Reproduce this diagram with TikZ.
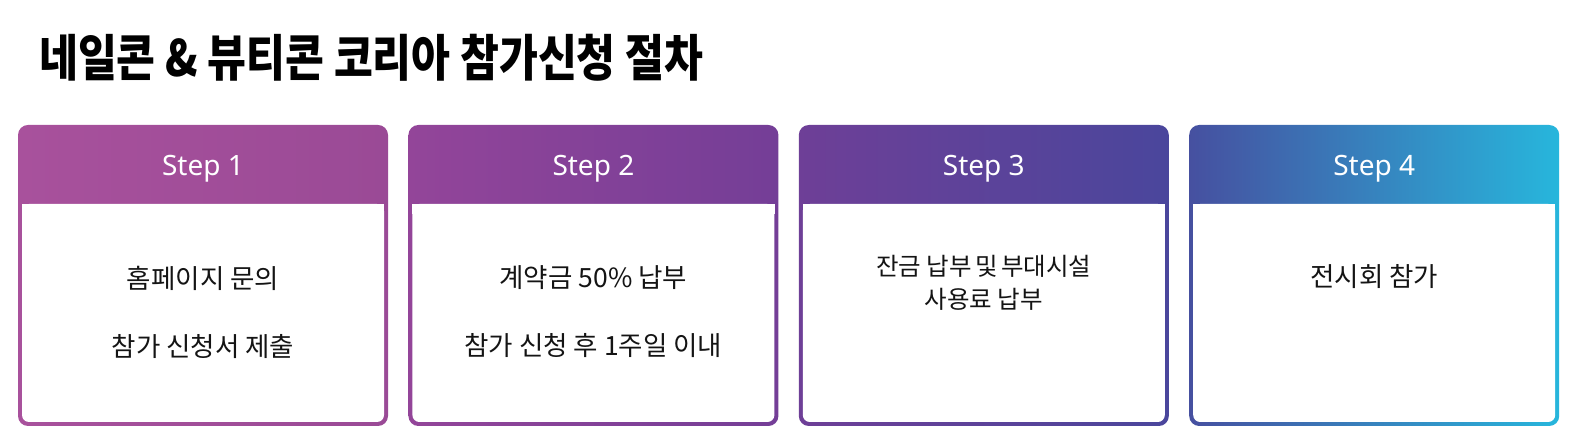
\documentclass[tikz,border=0pt]{standalone}
\usepackage{fontspec}
\usepackage{xcolor}
\usepackage{tikz}
\usetikzlibrary{positioning}
\newfontfamily\krfont{Noto Sans CJK KR}
\newfontfamily\krtitle[FakeStretch=0.845]{Noto Sans CJK KR}
\newfontfamily\stepfont{Noto Sans}
\definecolor{sonel}{RGB}{168,81,156}
\definecolor{soner}{RGB}{154,74,150}
\definecolor{stwol}{RGB}{147,69,153}
\definecolor{stwor}{RGB}{116,62,151}
\definecolor{sthreel}{RGB}{110,63,151}
\definecolor{sthreer}{RGB}{74,70,156}
\definecolor{sfourl}{RGB}{70,80,160}
\definecolor{sfourr}{RGB}{39,182,220}
\definecolor{infotext}{RGB}{20,20,20}
\begin{document}
\begin{tikzpicture}[x=1pt, y=1pt,
    card/.style={rectangle, rounded corners=10pt, minimum width=370pt,
                 minimum height=301pt, inner sep=0pt},
    body/.style={rectangle, fill=white, rounded corners=7pt, minimum width=362pt,
                 minimum height=218pt, inner sep=0pt},
    steplabel/.style={font=\stepfont\fontsize{28}{30}\selectfont, text=white},
    info/.style={font=\krfont\fontsize{26.5}{68}\selectfont, align=center,
                 text=infotext},
  ]
  \useasboundingbox (0,0) rectangle (1595,446);

  % Naslov
  \node[anchor=west, inner sep=0pt, font=\krtitle\bfseries\fontsize{50}{60}\selectfont]
    (title) at (39,388) {네일콘 \& 뷰티콘 코리아 참가신청 절차};

  % Step 1
  \node[card, left color=sonel, right color=soner] (c1) at (203,170.5) {};
  \node[body, above=4pt of c1.south] (b1) {};
  \fill[white] (b1.north west) rectangle ([yshift=-10pt]b1.north east);
  \node[steplabel] (h1) at ([yshift=-44pt]c1.north) {Step 1};
  \node[info] (t1) at ([yshift=1pt]b1.center) {홈페이지 문의\\참가 신청서 제출};

  % Step 2
  \node[card, left color=stwol, right color=stwor, right=20pt of c1] (c2) {};
  \node[body, above=4pt of c2.south] (b2) {};
  \fill[white] (b2.north west) rectangle ([yshift=-10pt]b2.north east);
  \node[steplabel] (h2) at ([yshift=-44pt]c2.north) {Step 2};
  \node[info] (t2) at ([yshift=1pt]b2.center) {계약금 50\% 납부\\참가 신청 후 1주일 이내};

  % Step 3
  \node[card, left color=sthreel, right color=sthreer, right=20pt of c2] (c3) {};
  \node[body, above=4pt of c3.south] (b3) {};
  \fill[white] (b3.north west) rectangle ([yshift=-10pt]b3.north east);
  \node[steplabel] (h3) at ([yshift=-44pt]c3.north) {Step 3};
  \node[info, font=\krfont\fontsize{24.5}{33}\selectfont] (t3)
    at ([yshift=-79pt]b3.north) {잔금 납부\hspace{-2pt} 및\hspace{-2pt} 부대시설\\사용료 납부};

  % Step 4
  \node[card, left color=sfourl, right color=sfourr, right=20pt of c3] (c4) {};
  \node[body, above=4pt of c4.south] (b4) {};
  \fill[white] (b4.north west) rectangle ([yshift=-10pt]b4.north east);
  \node[steplabel] (h4) at ([yshift=-44pt]c4.north) {Step 4};
  \node[info] (t4) at ([yshift=-73pt]b4.north) {전시회 참가};
\end{tikzpicture}
\end{document}
